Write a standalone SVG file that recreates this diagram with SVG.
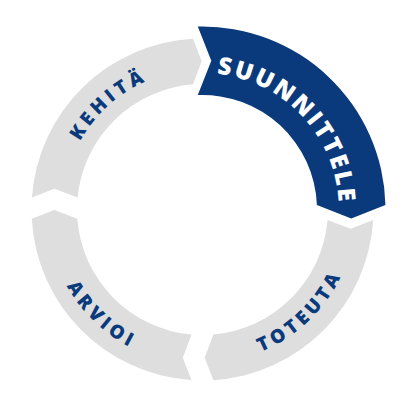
<svg xmlns="http://www.w3.org/2000/svg" width="413" height="413" viewBox="0 0 413 413">
<style>
.gray{fill:#dedede}
.blue{fill:#0a3a7c}
.lbl{font-family:"Open Sans","Liberation Sans",sans-serif;font-weight:800;font-size:19px;letter-spacing:4px;fill:#0a3a7c}
.lblw{font-family:"Open Sans","Liberation Sans",sans-serif;font-weight:800;font-size:24px;letter-spacing:2.5px;fill:#ffffff}
</style>
<defs>
<path id="pK" d="M65.26,238.17 A140.2,140.2 0 0 1 246.29,76.31"/>
<path id="pA" d="M51.13,172.6 A155.8,155.8 0 0 0 246.23,359.04"/>
<path id="pT" d="M159.46,357.16 A153.8,153.8 0 0 0 351.89,172.94"/>
<path id="pS" d="M157.87,80.61 A136.4,136.4 0 0 1 329.93,258.16"/>
</defs>
<rect width="413" height="413" fill="#ffffff"/>
<g id="suunnittele">
<path class="blue" d="M197.8,26.56 A183,183 0 0 1 385.44,205 L351.25,218.5 L316.91,205 A114.5,114.5 0 0 0 197.8,95.1 L211.3,60.75 Z"/>
<text class="lblw" text-anchor="middle"><textPath href="#pS" startOffset="50.8%">SUUNNITTELE</textPath></text>
</g>
<g id="toteuta">
<path class="gray" d="M373.18,220 A171,171 0 0 1 213.4,380.15 L204.7,357.75 L213.4,334.53 A125.5,125.5 0 0 0 327.56,220 L350.75,228.7 Z"/>
<text class="lbl" text-anchor="middle"><textPath href="#pT" startOffset="50%">TOTEUTA</textPath></text>
</g>
<g id="arvioi">
<path class="gray" d="M191.5,380.15 A171,171 0 0 1 31.75,218.8 L54.25,210.1 L77.35,218.8 A125.5,125.5 0 0 0 191.5,334.52 L182.8,357.75 Z"/>
<text class="lbl" text-anchor="middle"><textPath href="#pA" startOffset="50%">ARVIOI</textPath></text>
</g>
<g id="kehita">
<path class="gray" d="M31.92,197.5 A171,171 0 0 1 193,38.76 L201.7,61.25 L193,84.36 A125.5,125.5 0 0 0 77.58,197.5 L54.25,188.8 Z"/>
<text class="lbl" text-anchor="middle"><textPath href="#pK" startOffset="50%">KEHITÄ</textPath></text>
</g>
<g id="connectors"></g>
</svg>
